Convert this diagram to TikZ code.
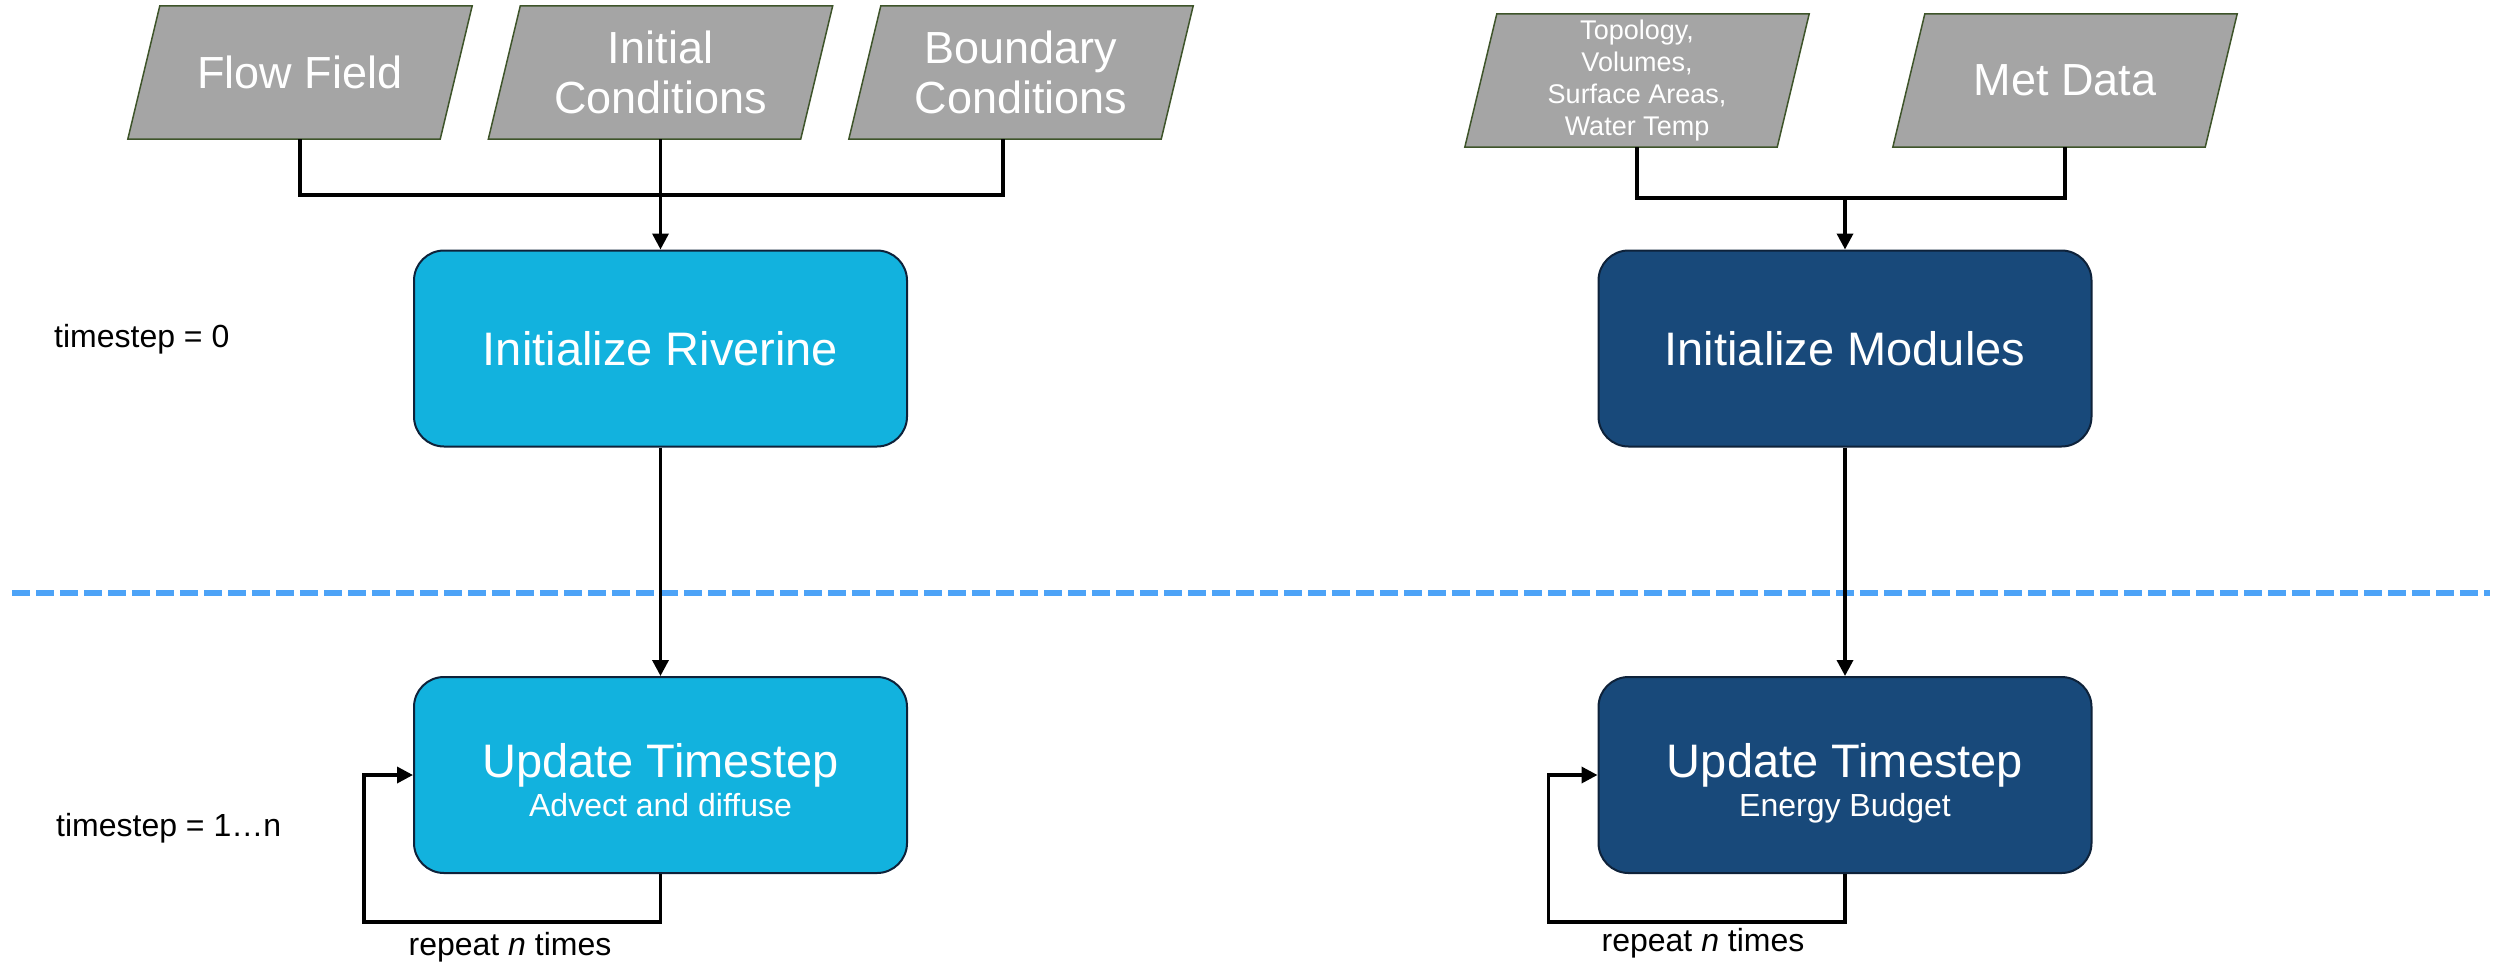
\documentclass[tikz,border=0pt]{standalone}
\usepackage{fontspec}
\setmainfont{Liberation Sans}
\usetikzlibrary{arrows.meta,backgrounds}

\definecolor{riverblue}{RGB}{18,178,222}
\definecolor{modnavy}{RGB}{24,73,122}
\definecolor{boxedge}{RGB}{14,34,58}
\definecolor{datagray}{RGB}{165,165,165}
\definecolor{dataedge}{RGB}{62,84,42}
\definecolor{phaseline}{RGB}{77,163,247}

\begin{document}
\begin{tikzpicture}[x=1pt,y=-1pt,
  datain/.style={rectangle, minimum width=312pt, minimum height=133pt,
    inner sep=0pt, text=white, align=center, font=\fontsize{45}{50}\selectfont},
  pgram/.style={fill=datagray, draw=dataedge, line width=1.5pt},
  proc/.style={rectangle, rounded corners=30pt, minimum width=493pt,
    minimum height=196pt, inner sep=0pt, draw=boxedge, line width=2pt,
    text=white, font=\fontsize{47}{56}\selectfont},
  boxtitle/.style={inner sep=0pt, text=white, font=\fontsize{47}{56}\selectfont},
  boxsub/.style={inner sep=0pt, text=white, font=\fontsize{32}{38}\selectfont},
  side/.style={inner sep=0pt, text=black, font=\fontsize{32}{38}\selectfont},
  link/.style={draw=black, line width=3.5pt},
  flow/.style={link, -{Triangle[length=16pt,width=16pt]}},
  phase/.style={draw=phaseline, line width=5.7pt, dash pattern=on 18pt off 6pt}
]
\useasboundingbox (0,0) rectangle (2496,964);

% ---- phase separator
\draw[phase] (12,593) -- (2490,593);

% ---- riverine inputs
\node[datain] (ff) at (300,72.5) {Flow Field};
\node[datain] (ic) at (660.5,72.5) {Initial\\Conditions};
\node[datain] (bc) at (1021,72.5) {Boundary\\Conditions};

% ---- module inputs
\node[datain, font=\fontsize{27}{32}\selectfont] (tp) at (1637,80.5)
  {Topology,\\Volumes,\\Surface Areas,\\Water Temp};
\node[datain] (md) at (2065,80.5) {Met Data};

% ---- slanted data shapes behind the input labels
\begin{scope}[on background layer]
  \foreach \n in {ff,ic,bc,tp,md}
    \draw[pgram] ([xshift=-16pt]\n.south west) -- ([xshift=-16pt]\n.south east)
      -- ([xshift=16pt]\n.north east) -- ([xshift=16pt]\n.north west) -- cycle;
\end{scope}

% ---- process boxes
\node[proc, fill=riverblue] (ir) at (660.5,348.5) {Initialize Riverine};
\node[proc, fill=modnavy] (im) at (1845,348.5) {Initialize Modules};
\node[proc, fill=riverblue] (ut1) at (660.5,775) {};
\node[proc, fill=modnavy] (ut2) at (1845,775) {};

\node[boxtitle, anchor=base] (ut1t) at ([yshift=-2pt]ut1.center) {Update Timestep};
\node[boxsub, anchor=base] (ut1s) at ([yshift=-41pt]ut1.center) {Advect and diffuse};
\node[boxtitle, anchor=base] (ut2t) at ([yshift=-2pt]ut2.center) {Update Timestep};
\node[boxsub, anchor=base] (ut2s) at ([yshift=-41pt]ut2.center) {Energy Budget};

% ---- side labels
\node[side, anchor=west] (t0) at (54,339) {timestep = 0};
\node[side, anchor=west] (tn) at (56,828) {timestep = 1…n};

% ---- input junctions
\coordinate (jl) at (660.5,195);
\coordinate (jr) at (1845,198);

\draw[link] (ff.south) |- (jl);
\draw[link] ([xshift=-18pt]bc.south) |- (jl);
\draw[flow] (ic.south) -- (ir.north);

\draw[link] (tp.south) |- (jr) -| (md.south);
\draw[flow] (jr) -- (im.north);

% ---- initialise to timestep
\draw[flow] (ir.south) -- (ut1.north);
\draw[flow] (im.south) -- (ut2.north);

% ---- repeat loops
\draw[flow] (ut1.south) -- ++(0,48) -| ([xshift=-49pt]ut1.west) -- (ut1.west);
\draw[flow] (ut2.south) -- ++(0,48) -| ([xshift=-49pt]ut2.west) -- (ut2.west);

\node[side] (r1) at (510,947) {repeat \textit{n} times};
\node[side] (r2) at (1703,943) {repeat \textit{n} times};
\end{tikzpicture}
\end{document}
